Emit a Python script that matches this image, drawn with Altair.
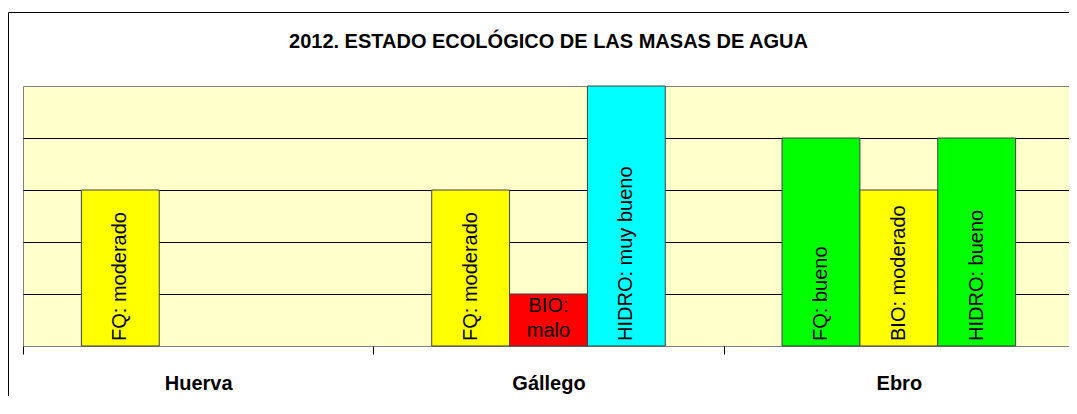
import altair as alt
import pandas as pd

# ---- data ----
rios = ["Huerva", "Gállego", "Ebro"]
indicadores = ["FQ", "BIO", "HIDRO"]
bar_rio = ["Huerva", "Gállego", "Gállego", "Gállego", "Ebro", "Ebro", "Ebro"]
bar_ind = ["FQ", "FQ", "BIO", "HIDRO", "FQ", "BIO", "HIDRO"]
bar_estado = ["moderado", "moderado", "malo", "muy bueno", "bueno", "moderado", "bueno"]
bar_valor = [3, 3, 1, 5, 4, 3, 4]
estados = ["malo", "moderado", "bueno", "muy bueno"]
colores = ["#FF0000", "#FFFF00", "#00FF00", "#00FFFF"]
titulo = "2012. ESTADO ECOLÓGICO DE LAS MASAS DE AGUA"

df = pd.DataFrame({"rio": bar_rio, "ind": bar_ind, "estado": bar_estado, "valor": bar_valor})

W, H = 1051, 260
FONT = "Liberation Sans, Arial, sans-serif"

base = alt.Chart(df).transform_calculate(
    label="datum.ind + ': ' + datum.estado",
    label2="datum.ind + ':\\n' + datum.estado",
    mid="datum.valor / 2",
)

x_enc = alt.X(
    "rio:N",
    sort=rios,
    scale=alt.Scale(paddingInner=0, paddingOuter=0),
    axis=alt.Axis(
        title=None, labelAngle=0, tickBand="extent", tickSize=8, tickColor="black",
        domain=False, labelFont=FONT, labelFontSize=20, labelFontWeight="bold",
        labelColor="black", labelPadding=19,
    ),
)
xo_enc = alt.XOffset("ind:N", sort=indicadores, scale=alt.Scale(paddingInner=0, paddingOuter=0.75))

bars = base.mark_bar(stroke="#404040", strokeWidth=1).encode(
    x=x_enc,
    xOffset=xo_enc,
    y=alt.Y(
        "valor:Q",
        scale=alt.Scale(domain=[0, 5]),
        axis=alt.Axis(values=[1, 2, 3, 4], grid=True, gridColor="black", gridWidth=1,
                      labels=False, ticks=False, domain=False, title=None),
    ),
    color=alt.Color("estado:N", scale=alt.Scale(domain=estados, range=colores), legend=None),
)

rot_labels = base.transform_filter("datum.valor >= 2").mark_text(
    angle=270, align="left", baseline="middle", dx=5, font=FONT, fontSize=20, color="black"
).encode(
    x=x_enc,
    xOffset=xo_enc,
    y=alt.datum(0),
    text="label:N",
)

hor_labels = base.transform_filter("datum.valor < 2").mark_text(
    align="center", baseline="middle", lineBreak="\n", lineHeight=25, dy=-14,
    font=FONT, fontSize=20, color="black"
).encode(
    x=x_enc,
    xOffset=xo_enc,
    y=alt.Y("mid:Q"),
    text="label2:N",
)

one = pd.DataFrame({"k": [0]})
frame_top = alt.Chart(one).mark_rule(color="black", strokeWidth=1).encode(
    x=alt.value(-14.5), x2=alt.value(W - 5), y=alt.value(-73.5),
)
frame_left = alt.Chart(one).mark_rule(color="black", strokeWidth=1).encode(
    x=alt.value(-14.5), y=alt.value(-73.5), y2=alt.value(H + 50),
)

title_mark = alt.Chart(pd.DataFrame({"t": [titulo]})).mark_text(
    font=FONT, fontSize=20, fontWeight="bold", color="black",
    align="center", baseline="middle",
).encode(
    x=alt.value(W / 2), y=alt.value(-44), text="t:N",
)

chart = alt.layer(bars, rot_labels, hor_labels, frame_top, frame_left, title_mark).properties(
    width=W, height=H,
    autosize=alt.AutoSizeParams(type="none"),
    padding={"left": 15, "top": 78, "right": -5, "bottom": 50},
).configure_view(
    fill="#FFFFCC", stroke="#808080", strokeWidth=1
)

chart.save("out.html", embed_options={"renderer": "svg", "actions": False})
